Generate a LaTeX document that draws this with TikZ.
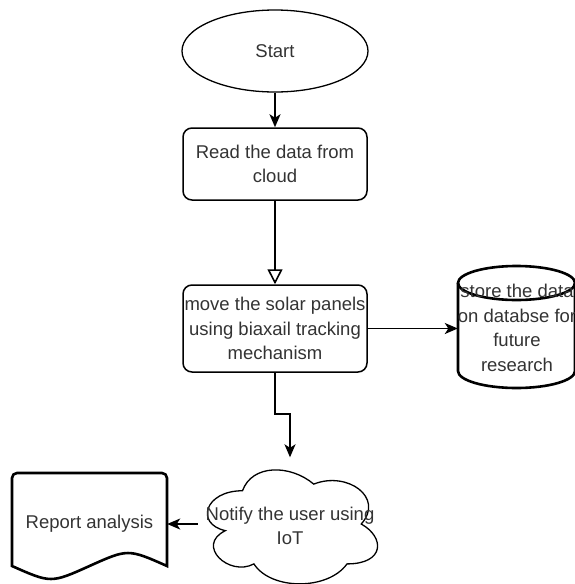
\documentclass[tikz,border=0pt]{standalone}
\usepackage{fontspec}
\setmainfont{Liberation Sans}
\usetikzlibrary{shapes.geometric,arrows.meta}
\begin{document}
\begin{tikzpicture}[x=1pt,y=-1pt,
  every node/.style={font=\fontsize{18.5}{24.5}\selectfont, text=black!80, align=center},
  proc/.style={draw=black, rounded corners=9pt, line width=1.5pt, minimum width=184pt, inner sep=0pt},
  ghost/.style={inner sep=0pt, draw=none},
  conn/.style={line width=1.6pt, -{Stealth[length=13pt,width=11pt,inset=3.5pt]}},
  openconn/.style={line width=1.6pt, -{Triangle[open,length=15pt,width=15pt,fill=white]}},
  thick shape/.style={line width=2.6pt, draw=black},
  thin shape/.style={line width=1.3pt, draw=black}
]
\useasboundingbox (0,0) rectangle (575,584);

% Start
\node[thin shape, ellipse, minimum width=186pt, minimum height=82pt, inner sep=0pt] (start) at (275,51) {Start};

% process boxes
\node[proc, minimum height=72pt] (read) at (275,164) {Read the data from\\cloud};
\node[proc, minimum height=87pt] (move) at (275,328.5) {move the solar panels\\using biaxail tracking\\mechanism};

% database cylinder
\draw[thick shape, fill=white] (458,283) -- (458,371)
  .. controls (458,380.4) and (484.2,388) .. (516.5,388)
  .. controls (548.8,388) and (575,380.4) .. (575,371) -- (575,283);
\draw[thick shape] (516.5,283) ellipse [x radius=58.5, y radius=17];
\node[ghost, minimum width=117pt, minimum height=122pt] (db) at (516.5,327) {};
\node[ghost] (dbtext) at (517,328) {store the data\\on databse for\\future\\research};

% cloud
\begin{scope}[shift={(195,457.5)}, x=190pt, y=-133pt]
\draw[thin shape]
  (0.25,0.25) .. controls (0.05,0.25) and (0,0.5) .. (0.16,0.55)
  .. controls (0,0.66) and (0.18,0.9) .. (0.31,0.8)
  .. controls (0.4,1) and (0.7,1) .. (0.8,0.8)
  .. controls (1,0.8) and (1,0.6) .. (0.875,0.5)
  .. controls (1,0.3) and (0.8,0.1) .. (0.625,0.2)
  .. controls (0.5,0.05) and (0.3,0.05) .. (0.25,0.25) -- cycle;
\end{scope}
\node[ghost, minimum width=190pt, minimum height=133pt] (cloud) at (290,524) {};
\node[ghost] (cloudtext) at (290,526) {Notify the user using\\IoT};

% document
\draw[thick shape] (12,566) [rounded corners=5pt] -- (12,473) -- (167,473) [sharp corners] -- (167,566)
  .. controls (128,548.7) .. (89.5,566)
  .. controls (51,583.3) .. (12,566) -- cycle;
\node[ghost, minimum width=155pt, minimum height=102pt] (doc) at (89.5,524) {Report analysis};

% connectors
\draw[conn] (start.south) -- (read.north);
\draw[openconn] (read.south) -- (move.north);
\draw[conn] (move.east) -- (move.east -| db.west);
\draw[conn] (move.south) -- ++(0,41) -| (cloud.north);
\draw[conn] ([xshift=3pt]cloud.west) -- (doc.east);
\end{tikzpicture}
\end{document}
